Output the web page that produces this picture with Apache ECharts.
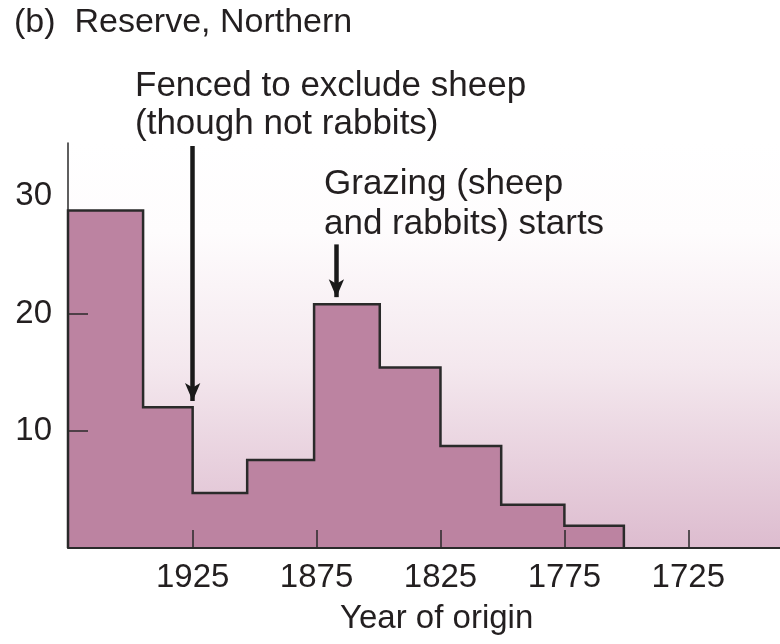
<!DOCTYPE html>
<html>
<head>
<meta charset="utf-8">
<script src="https://cdn.jsdelivr.net/npm/echarts@6/dist/echarts.min.js"></script>
<style>
  html, body { margin: 0; padding: 0; background: #ffffff; }
  #chart { width: 780px; height: 644px; }
</style>
</head>
<body>
<div id="chart"></div>
<script>
// Bin edges (year of origin, newest to oldest)
var binEdges = [1975.3, 1945, 1925, 1903, 1876, 1849.5, 1825, 1800.5, 1775, 1751];
// Number of trees per bin
var counts = [28.8, 12.0, 4.7, 7.5, 20.8, 15.4, 8.7, 3.7, 1.9];
// Tick labels / tick marks
var xTicks = [1925, 1875, 1825, 1775, 1725];
var yLabels = [10, 20, 30];
var yTickMarks = [10, 20];
// Annotation arrows: [year, fromValue, toValue]
var arrowFenced = [1925, 34.3, 12.55];
var arrowGrazing = [1867, 25.9, 21.4];

var FONT = '"Liberation Sans", Arial, Helvetica, sans-serif';
var TXT = '#231f20';

// outline points of the step histogram
var outline = [[binEdges[0], 0]];
for (var i = 0; i < counts.length; i++) {
  outline.push([binEdges[i], counts[i]]);
  outline.push([binEdges[i + 1], counts[i]]);
}
outline.push([binEdges[binEdges.length - 1], 0]);

var chart = echarts.init(document.getElementById('chart'), null, { renderer: 'canvas' });

chart.setOption({
  animation: false,
  backgroundColor: '#ffffff',
  grid: {
    left: 68, right: 0, top: 143, bottom: 96,
    show: true, borderWidth: 0,
    backgroundColor: new echarts.graphic.LinearGradient(0, 0, 0, 1, [
      { offset: 0, color: '#ffffff' },
      { offset: 0.22, color: '#fefcfd' },
      { offset: 0.55, color: '#f4e8ee' },
      { offset: 1, color: '#ddbccf' }
    ])
  },
  xAxis: {
    type: 'value', inverse: true, min: 1688, max: 1975.3, z: 10,
    splitLine: { show: false },
    axisLine: { show: true, onZero: false, lineStyle: { color: '#2a2a2a', width: 2 } },
    axisTick: { show: true, inside: true, length: 18, customValues: xTicks, lineStyle: { color: '#2a2a2a', width: 1.5 } },
    axisLabel: {
      customValues: xTicks, fontSize: 33, fontFamily: FONT, color: TXT, margin: 13,
      formatter: function (v) { return String(v); }
    }
  },
  yAxis: {
    type: 'value', min: 0, max: 34.55, z: 10,
    splitLine: { show: false },
    axisLine: { show: true, onZero: false, lineStyle: { color: '#2a2a2a', width: 1.5 } },
    axisTick: { show: true, inside: true, length: 20, customValues: yTickMarks, lineStyle: { color: '#2a2a2a', width: 1.5 } },
    axisLabel: {
      customValues: yLabels, fontSize: 33, fontFamily: FONT, color: TXT, margin: 16,
      formatter: function (v) { return String(v); }
    }
  },
  series: [{
    type: 'line',
    data: outline,
    symbol: 'none',
    clip: false,
    lineStyle: { color: '#2a2a2a', width: 2.5, join: 'miter' },
    areaStyle: { color: '#bc83a1', opacity: 1 },
    z: 3,
    markLine: {
      silent: true,
      symbol: ['none', 'arrow'],
      symbolSize: [11.5, 18],
      label: { show: false },
      lineStyle: { color: '#1a1a1a', width: 4.5, type: 'solid' },
      emphasis: { disabled: true },
      data: [
        [{ coord: [arrowFenced[0], arrowFenced[1]] }, { coord: [arrowFenced[0], arrowFenced[2]] }],
        [{ coord: [arrowGrazing[0], arrowGrazing[1]] }, { coord: [arrowGrazing[0], arrowGrazing[2]] }]
      ]
    }
  }],
  graphic: [
    { type: 'text', left: 14, top: 6, style: { text: '(b)  Reserve, Northern', font: '34px ' + FONT, fill: TXT } },
    { type: 'text', left: 135, top: 67, style: { text: 'Fenced to exclude sheep\n(though not rabbits)', font: '35px ' + FONT, fill: TXT, lineHeight: 38.5 } },
    { type: 'text', left: 324, top: 165, style: { text: 'Grazing (sheep\nand rabbits) starts', font: '35px ' + FONT, fill: TXT, lineHeight: 39.5 } },
    { type: 'text', left: 340, top: 602, style: { text: 'Year of origin', font: '33px ' + FONT, fill: TXT } }
  ]
});
</script>
</body>
</html>
